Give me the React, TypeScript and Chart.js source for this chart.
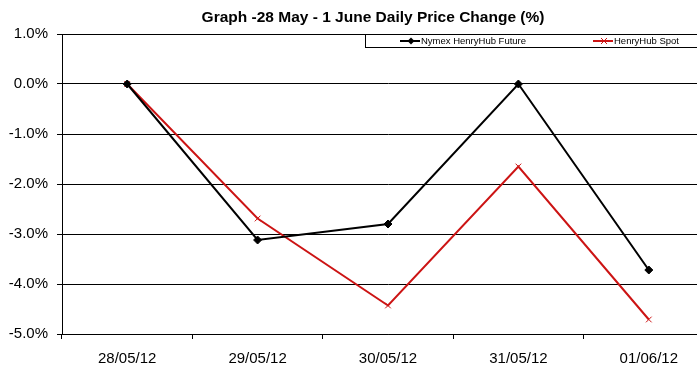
import React, { useEffect, useRef } from "react";
import { Chart, registerables } from "chart.js";

Chart.register(...registerables);

const TITLE = "Graph -28 May - 1 June Daily Price Change (%)";
const categories = ["28/05/12", "29/05/12", "30/05/12", "31/05/12", "01/06/12"];
const nymexFuture = [0, -3.12, -2.8, 0, -3.72];
const henryHubSpot = [0, -2.69, -4.43, -1.65, -4.71];
const seriesNames = ["Nymex HenryHub Future", "HenryHub Spot"];
const yMin = -5;
const yMax = 1;
const yStep = 1;

const FONT = '"Liberation Sans", Arial, sans-serif';
const RED = "#cc1414";

const overlayPlugin = {
  id: "overlay",
  afterDraw(chart: any) {
    const ctx = chart.ctx;
    ctx.save();
    // title
    ctx.font = `bold 15.5px ${FONT}`;
    ctx.fillStyle = "#000";
    ctx.textAlign = "center";
    ctx.textBaseline = "middle";
    ctx.fillText(TITLE, 373, 17.5);
    // legend box
    ctx.fillStyle = "#fff";
    ctx.fillRect(365, 34, 400, 13);
    ctx.strokeStyle = "#000";
    ctx.lineWidth = 1;
    ctx.strokeRect(365.5, 34.5, 400, 13);
    const ds = chart.data.datasets;
    const items = [
      { x: 400, tx: 421 },
      { x: 593, tx: 614 },
    ];
    ctx.font = `9.5px ${FONT}`;
    ctx.textAlign = "left";
    items.forEach((it, i) => {
      const d = ds[i];
      const y = 41;
      ctx.strokeStyle = d.borderColor;
      ctx.lineWidth = 2;
      ctx.beginPath();
      ctx.moveTo(it.x, y);
      ctx.lineTo(it.x + 20, y);
      ctx.stroke();
      const cx = it.x + 11;
      if (i === 0) {
        ctx.fillStyle = d.borderColor;
        ctx.beginPath();
        ctx.moveTo(cx, y - 3.5);
        ctx.lineTo(cx + 3.5, y);
        ctx.lineTo(cx, y + 3.5);
        ctx.lineTo(cx - 3.5, y);
        ctx.closePath();
        ctx.fill();
      } else {
        ctx.lineWidth = 1;
        ctx.beginPath();
        ctx.moveTo(cx - 3, y - 3);
        ctx.lineTo(cx + 3, y + 3);
        ctx.moveTo(cx + 3, y - 3);
        ctx.lineTo(cx - 3, y + 3);
        ctx.stroke();
      }
      ctx.fillStyle = "#000";
      ctx.fillText(d.label, it.tx, y + 0.5);
    });
    ctx.restore();
  },
};

export default function App() {
  const ref = useRef<HTMLCanvasElement | null>(null);
  useEffect(() => {
    if (!ref.current) return;
    const chart = new Chart(ref.current, {
      type: "line",
      data: {
        labels: categories,
        datasets: [
          {
            label: seriesNames[0],
            data: nymexFuture,
            borderColor: "#000",
            backgroundColor: "#000",
            borderWidth: 2,
            pointStyle: "rectRot",
            pointRadius: 4,
            pointBorderWidth: 1,
            tension: 0,
          },
          {
            label: seriesNames[1],
            data: henryHubSpot,
            borderColor: RED,
            backgroundColor: RED,
            borderWidth: 2,
            pointStyle: "crossRot",
            pointRadius: 4,
            pointBorderWidth: 1,
            tension: 0,
          },
        ],
      },
      options: {
        responsive: false,
        animation: false,
        devicePixelRatio: 1,
        layout: { padding: { top: 34, left: 0, right: 6, bottom: 0 } },
        plugins: {
          legend: { display: false },
          title: { display: false },
          tooltip: { enabled: false },
        },
        scales: {
          x: {
            type: "category",
            offset: true,
            grid: {
              offset: true,
              drawOnChartArea: false,
              drawTicks: true,
              tickLength: 5,
              color: "#000",
            },
            border: { color: "#000", width: 1 },
            ticks: {
              color: "#000",
              font: { family: FONT, size: 15 },
              padding: 11,
              maxRotation: 0,
            },
            afterFit(scale: any) {
              scale.height = 44;
            },
          },
          y: {
            min: yMin,
            max: yMax,
            grid: {
              color: "#000",
              lineWidth: 1,
              drawTicks: true,
              tickLength: 5,
            },
            border: { color: "#000", width: 1 },
            ticks: {
              stepSize: yStep,
              color: "#000",
              font: { family: FONT, size: 15 },
              padding: 9,
              callback: (v: any) => Number(v).toFixed(1) + "%",
            },
            afterFit(scale: any) {
              scale.width = 62;
            },
          },
        },
      },
      plugins: [overlayPlugin],
    });
    return () => chart.destroy();
  }, []);
  return (
    <div
      style={{
        position: "absolute",
        left: 0,
        top: 0,
        width: 697,
        height: 378,
        overflow: "hidden",
        background: "#fff",
      }}
    >
      <canvas ref={ref} width={720} height={378} style={{ display: "block" }} />
    </div>
  );
}
